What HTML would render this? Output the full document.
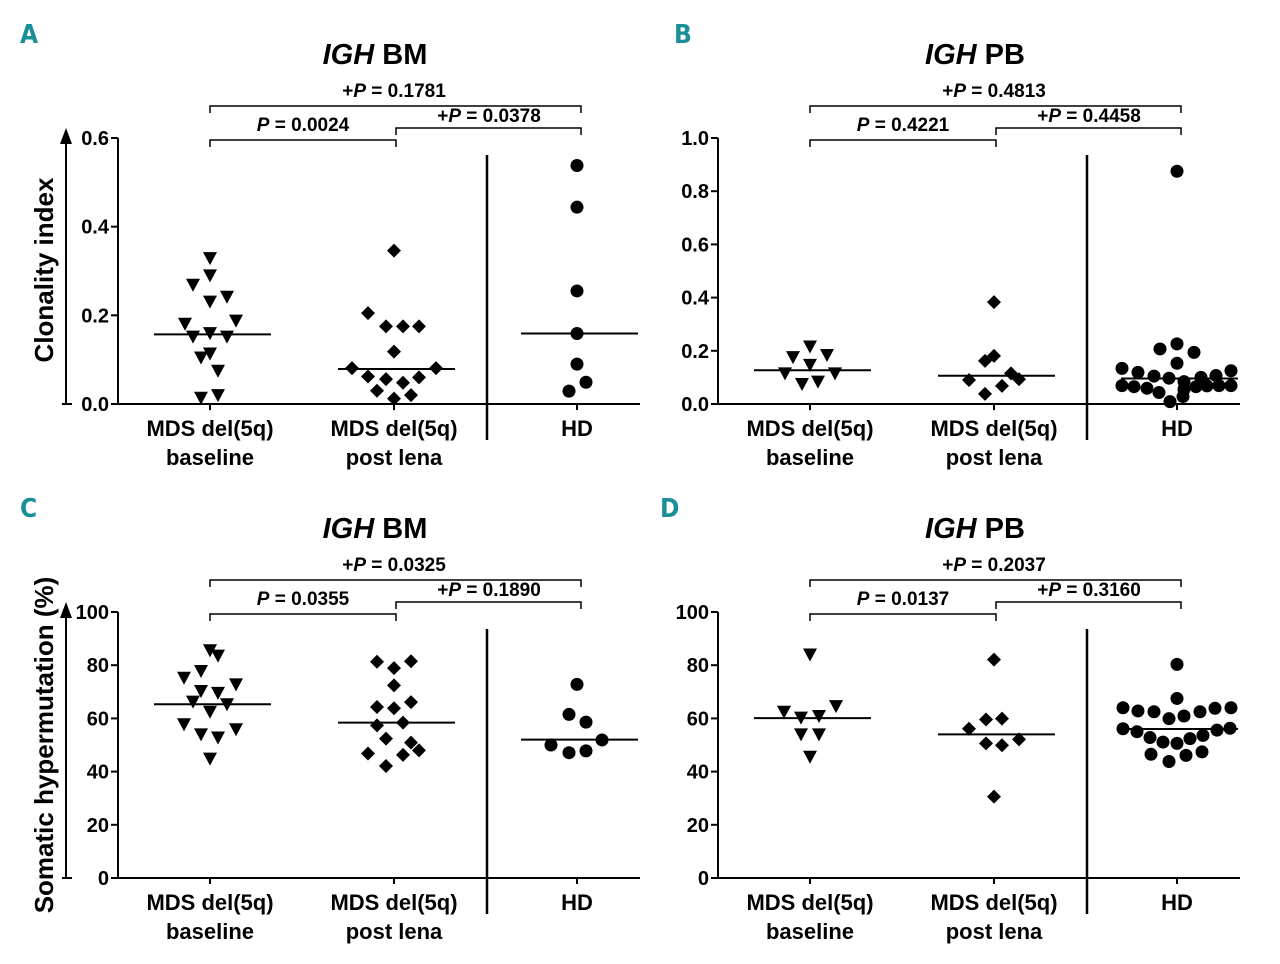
<!DOCTYPE html>
<html><head><meta charset="utf-8"><style>
body{margin:0;background:#fff;}
svg{display:block;font-family:"Liberation Sans",Arial,sans-serif;}
</style></head><body>
<svg id="fig" width="1280" height="964" viewBox="0 0 1280 964" xmlns="http://www.w3.org/2000/svg"></svg>
<script>
// ---- data ----
const categories = ["MDS del(5q)|baseline", "MDS del(5q)|post lena", "HD"];
// Panel A: IGH BM clonality index
const aBaseline = [0.329,0.290,0.269,0.242,0.231,0.181,0.188,0.152,0.160,0.152,0.105,0.114,0.075,0.014,0.020];
const aBaselineJit = [0,0,-17,17,0,-25,26,-17,0,17,-9,0,8,-9,8];
const aPost = [0.346,0.205,0.175,0.175,0.175,0.118,0.081,0.081,0.062,0.056,0.048,0.060,0.030,0.012,0.020];
const aPostJit = [0,-26,-8,9,25,0,-42,42,-26,-8,9,25,-17,0,17];
const aHD = [0.538,0.444,0.255,0.159,0.090,0.049,0.029];
const aHDJit = [0,0,0,0,0,9,-8];
const aMedians = [0.157,0.079,0.159];
const aTicks = ["0.0","0.2","0.4","0.6"];
// Panel B: IGH PB clonality index
const bBaseline = [0.216,0.176,0.184,0.147,0.115,0.115,0.075,0.084];
const bBaselineJit = [0,-17,17,0,-25,25,-8,8];
const bPost = [0.383,0.181,0.162,0.115,0.090,0.093,0.068,0.038];
const bPostJit = [0,0,-9,17,-25,25,8,-9];
const bHD = [0.875,0.226,0.207,0.194,0.153,0.134,0.125,0.119,0.105,0.097,0.100,0.107,0.084,0.069,0.065,0.059,0.043,0.055,0.065,0.068,0.069,0.069,0.009,0.028];
const bHDJit = [0,0,-17,17,0,-55,54,-39,-23,-8,24,39,7,-55,-43,-30,-18,7,19,30,42,54,-7,6];
const bMedians = [0.127,0.106,0.096];
const bTicks = ["0.0","0.2","0.4","0.6","0.8","1.0"];
// Panel C: IGH BM somatic hypermutation
const cBaseline = [85.6,83.6,77.8,75.3,72.8,70.3,69.6,66.3,65.3,62.5,57.8,55.9,54.0,52.8,44.9];
const cBaselineJit = [0,8,-9,-26,26,-9,8,-17,17,0,-26,26,-9,8,0];
const cPost = [81.3,81.5,78.9,72.4,64.3,63.8,66.1,57.4,58.4,52.4,50.9,48.0,46.8,46.3,42.1];
const cPostJit = [-17,17,0,0,-17,0,17,-17,9,-8,17,25,-26,9,-8];
const cHD = [72.8,61.5,58.6,51.9,50.0,47.1,47.8];
const cHDJit = [0,-8,9,25,-26,-8,9];
const cMedians = [65.3,58.4,52.0];
const cTicks = ["0","20","40","60","80","100"];
// Panel D: IGH PB somatic hypermutation
const dBaseline = [84.0,62.5,64.6,60.3,60.9,54.0,54.0,45.6];
const dBaselineJit = [0,-26,26,-9,9,-9,9,0];
const dPost = [82.1,59.6,59.9,56.1,52.1,50.6,49.9,30.6];
const dPostJit = [0,-8,8,-25,25,-8,8,0];
const dHD = [80.3,67.5,64.0,62.8,62.5,63.8,64.0,62.5,59.9,60.9,56.1,55.0,55.6,56.3,52.8,51.1,50.6,52.4,53.6,46.5,46.1,47.4,43.8];
const dHDJit = [0,0,-54,-39,-23,38,54,23,-8,7,-54,-40,40,53,-27,-14,0,13,26,-26,9,25,-8];
const dMedians = [60.1,54.0,56.0];
const dTicks = ["0","20","40","60","80","100"];

const NS="http://www.w3.org/2000/svg";
const svg=document.getElementById('fig');
function mk(tag,attrs,parent){const e=document.createElementNS(NS,tag);for(const k in attrs)e.setAttribute(k,attrs[k]);(parent||svg).appendChild(e);return e;}
function txt(s,x,y,size,anchor,parent,extra){const t=mk('text',Object.assign({x:x,y:y,'font-size':size,'font-weight':'bold','text-anchor':anchor||'middle',fill:'#000'},extra||{}),parent);t.textContent=s;return t;}

function panel(o){
  const g=mk('g',{});
  
  
  const ax=o.ax, y0=o.y0, yTop=y0-266;
  const ymax=o.ymax;
  const Y=v=>y0-(v/ymax)*266;
  const cx=[ax+92, ax+276, ax+459];
  // letter
  const L=txt(o.letter,o.lx,y0-361,26,'start',g,{fill:'#1a8f99','font-family':'"DejaVu Sans Condensed","Liberation Sans",sans-serif'});
  
  
  // title
  const T=mk('text',{x:ax+257,y:y0-340,'font-size':29,'font-weight':'bold','text-anchor':'middle'},g);
  
  
  const t1=mk('tspan',{'font-style':'italic'},T);t1.textContent='IGH';
  const t2=mk('tspan',{},T);t2.textContent=' '+o.sub;
  // y axis
  const yl=mk('line',{x1:ax,y1:yTop,x2:ax,y2:y0,stroke:'#000','stroke-width':2},g);
  
  
  o.ticks.forEach((lab,i)=>{
    const v=parseFloat(lab);const yy=Y(v);
    mk('line',{x1:ax-7,y1:yy,x2:ax,y2:yy,stroke:'#000','stroke-width':2},g);
    const tl=txt(lab,ax-9,yy+7,20,'end',g);
    
    
  });
  // x axis
  const xl=mk('line',{x1:ax,y1:y0,x2:o.xend,y2:y0,stroke:'#000','stroke-width':2},g);
  
  
  cx.forEach(c=>mk('line',{x1:c,y1:y0,x2:c,y2:y0+6,stroke:'#000','stroke-width':2},g));
  // divider
  const dv=mk('line',{x1:ax+369,y1:y0-249,x2:ax+369,y2:y0+36,stroke:'#000','stroke-width':2.5},g);
  
  
  // category labels
  categories.forEach((c,i)=>{
    const parts=c.split('|');
    parts.forEach((p,j)=>{
      const t=txt(p,cx[i],y0+32+j*29,22,'middle',g);
      
      
    });
  });
  // brackets
  function bracket(x1,x2,y,label,lx,ly){
    const p=mk('path',{d:`M${x1},${y+7}V${y}H${x2}V${y+7}`,fill:'none',stroke:'#000','stroke-width':1.5},g);
    
    
    const t=mk('text',{x:lx,y:ly,'font-size':19,'font-weight':'bold','text-anchor':'middle'},g);
    
    
    const a=mk('tspan',{},t);a.textContent=label[0];
    const b=mk('tspan',{'font-style':'italic'},t);b.textContent='P';
    const c=mk('tspan',{},t);c.textContent=' = '+label[1];
  }
  const bt=y0-298;
  bracket(cx[0],cx[2]+4,bt,['+',o.p[0]],cx[1],bt-9);
  bracket(cx[0],cx[1]+2,bt+34,['',o.p[1]],cx[0]+93,bt+25);
  bracket(cx[1]+2,cx[2]+4,bt+22,['+',o.p[2]],cx[1]+95,bt+16);
  // series
  const series=[[o.s[0],o.j[0],'tri'],[o.s[1],o.j[1],'dia'],[o.s[2],o.j[2],'cir']];
  series.forEach((s,i)=>{
    s[0].forEach((v,k)=>{
      const x=cx[i]+s[1][k], y=Y(v);
      let e;
      if(s[2]==='tri') e=mk('path',{d:`M${x-7},${y-6}H${x+7}L${x},${y+7}Z`,fill:'#000'},g);
      else if(s[2]==='dia') e=mk('path',{d:`M${x},${y-7}L${x+7},${y}L${x},${y+7}L${x-7},${y}Z`,fill:'#000'},g);
      else e=mk('circle',{cx:x,cy:y,r:6.5,fill:'#000'},g);
      
      
    });
    const m=mk('line',{x1:cx[i]-56,y1:Y(o.med[i]),x2:cx[i]+61,y2:Y(o.med[i]),stroke:'#000','stroke-width':2},g);
    
    
  });
}
panel({name:'panel-a',letter:'A',lx:20,sub:'BM',ax:118,y0:404,ymax:0.6,xend:640,ticks:aTicks,p:['0.1781','0.0024','0.0378'],s:[aBaseline,aPost,aHD],j:[aBaselineJit,aPostJit,aHDJit],med:aMedians});
panel({name:'panel-b',letter:'B',lx:674,sub:'PB',ax:718,y0:404,ymax:1.0,xend:1240,ticks:bTicks,p:['0.4813','0.4221','0.4458'],s:[bBaseline,bPost,bHD],j:[bBaselineJit,bPostJit,bHDJit],med:bMedians});
panel({name:'panel-c',letter:'C',lx:20,sub:'BM',ax:118,y0:878,ymax:100,xend:640,ticks:cTicks,p:['0.0325','0.0355','0.1890'],s:[cBaseline,cPost,cHD],j:[cBaselineJit,cPostJit,cHDJit],med:cMedians});
panel({name:'panel-d',letter:'D',lx:660,sub:'PB',ax:718,y0:878,ymax:100,xend:1240,ticks:dTicks,p:['0.2037','0.0137','0.3160'],s:[dBaseline,dPost,dHD],j:[dBaselineJit,dPostJit,dHDJit],med:dMedians});

// y-axis titles with arrows
function ytitle(label,cy,top,bot,name){
  const a=mk('line',{x1:66,y1:top+8,x2:66,y2:bot,stroke:'#000','stroke-width':2});
  
  
  mk('path',{d:`M60,${top+12}L66,${top-4}L72,${top+12}Z`,fill:'#000'});
  mk('line',{x1:62,y1:bot,x2:72,y2:bot,stroke:'#000','stroke-width':2});
  const t=txt(label,44,cy+9,26,'middle',null,{transform:`rotate(-90 44 ${cy})`});
  
  
}
ytitle('Clonality index',270,132,404,'y-axis-title-clonality');
ytitle('Somatic hypermutation (%)',745,606,878,'y-axis-title-shm');
</script>
</body></html>
